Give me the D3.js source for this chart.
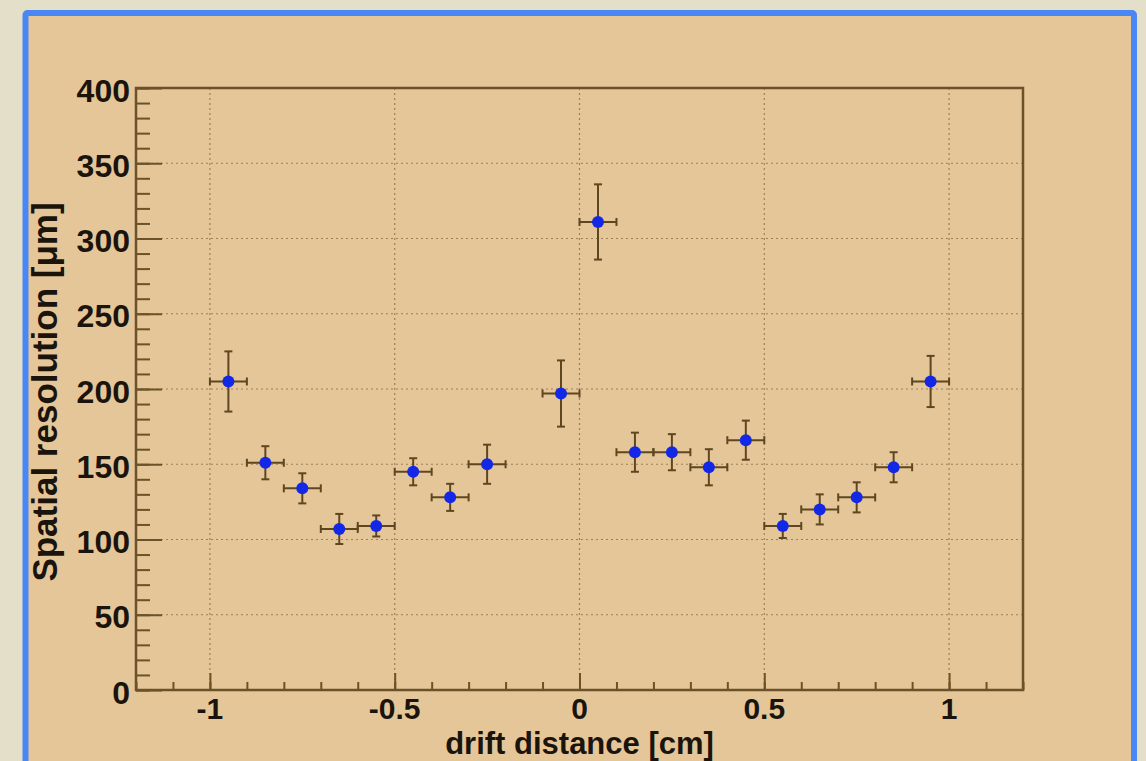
<!DOCTYPE html>
<html>
<head>
<meta charset="utf-8">
<script src="https://cdn.jsdelivr.net/npm/d3@7"></script>
<style>
  html, body { margin: 0; padding: 0; background: #e4dfc9; }
  #chart { width: 1146px; height: 761px; overflow: hidden; }
  svg { display: block; font-family: "Liberation Sans", Arial, sans-serif; }
</style>
</head>
<body>
<div id="chart"></div>
<script>
const DRIFT = [-0.95, -0.85, -0.75, -0.65, -0.55, -0.45, -0.35, -0.25, -0.05, 0.05,
               0.15, 0.25, 0.35, 0.45, 0.55, 0.65, 0.75, 0.85, 0.95];
const RESOLUTION = [205, 151, 134, 107, 109, 145, 128, 150, 197, 311,
                    158, 158, 148, 166, 109, 120, 128, 148, 205];
const RES_ERR = [20, 11, 10, 10, 7, 9, 9, 13, 22, 25,
                 13, 12, 12, 13, 8, 10, 10, 10, 17];
const DRIFT_ERR = 0.05;
const X_TICKS = [-1, -0.5, 0, 0.5, 1];
const Y_TICKS = [0, 50, 100, 150, 200, 250, 300, 350, 400];

const width = 1146;
const height = 761;
const margin = { left: 136, right: 123, top: 88, bottom: 71 };
const axisColor = "#6b5229";
const barColor = "#5e4720";
const textColor = "#1a140c";

const svg = d3.select("#chart")
  .append("svg")
  .attr("width", width)
  .attr("height", height);

// outer frame
svg.append("rect")
  .attr("x", 25.5).attr("y", 13)
  .attr("width", 1108.5).attr("height", 800)
  .attr("fill", "#e5c699")
  .attr("stroke", "#4a87f6")
  .attr("stroke-width", 6)
  .attr("rx", 2);

const x = d3.scaleLinear().domain([-1.2, 1.2]).range([margin.left, width - margin.right]);
const y = d3.scaleLinear().domain([0, 400]).range([height - margin.bottom, margin.top]);

// grid
const grid = svg.append("g")
  .attr("stroke", "#8a7048")
  .attr("stroke-width", 1.2)
  .attr("stroke-dasharray", "2,3")
  .attr("opacity", 0.8);

grid.selectAll("line.vx")
  .data(X_TICKS)
  .join("line")
  .attr("class", "vx")
  .attr("x1", (d) => x(d)).attr("x2", (d) => x(d))
  .attr("y1", y(0)).attr("y2", y(400));

grid.selectAll("line.hy")
  .data(Y_TICKS.filter((d) => d > 0 && d < 400))
  .join("line")
  .attr("class", "hy")
  .attr("x1", x(-1.2)).attr("x2", x(1.2))
  .attr("y1", (d) => y(d)).attr("y2", (d) => y(d));

// axes
const xMinor = d3.range(-12, 13).map((d) => d / 10);
const yMinor = d3.range(0, 41).map((d) => d * 10);

const xAxisMinor = d3.axisTop(x).tickValues(xMinor).tickSize(8).tickFormat("");
const xAxisMajor = d3.axisTop(x).tickValues(X_TICKS).tickSize(17).tickFormat("");
const yAxisMinor = d3.axisRight(y).tickValues(yMinor).tickSize(14).tickFormat("");
const yAxisMajor = d3.axisRight(y).tickValues(Y_TICKS).tickSize(26).tickFormat("");

function styleAxis(g) {
  g.select(".domain").remove();
  g.selectAll(".tick line").attr("stroke", axisColor).attr("stroke-width", 2);
}

svg.append("g").attr("transform", `translate(0,${y(0)})`).call(xAxisMinor).call(styleAxis);
svg.append("g").attr("transform", `translate(0,${y(0)})`).call(xAxisMajor).call(styleAxis);
svg.append("g").attr("transform", `translate(${x(-1.2)},0)`).call(yAxisMinor).call(styleAxis);
svg.append("g").attr("transform", `translate(${x(-1.2)},0)`).call(yAxisMajor).call(styleAxis);

// plot frame
svg.append("rect")
  .attr("x", x(-1.2)).attr("y", y(400))
  .attr("width", x(1.2) - x(-1.2)).attr("height", y(0) - y(400))
  .attr("fill", "none")
  .attr("stroke", axisColor)
  .attr("stroke-width", 2.5);

// tick labels
svg.append("g")
  .selectAll("text")
  .data(Y_TICKS)
  .join("text")
  .attr("x", x(-1.2) - 6)
  .attr("y", (d) => y(d) + 2)
  .attr("dy", "0.36em")
  .attr("text-anchor", "end")
  .attr("font-size", 32)
  .attr("font-weight", "bold")
  .attr("fill", textColor)
  .text((d) => d);

svg.append("g")
  .selectAll("text")
  .data(X_TICKS)
  .join("text")
  .attr("x", (d) => x(d))
  .attr("y", 719)
  .attr("text-anchor", "middle")
  .attr("font-size", 30)
  .attr("font-weight", "bold")
  .attr("fill", textColor)
  .text((d) => d);

// axis titles
svg.append("text")
  .attr("x", x(0))
  .attr("y", 754)
  .attr("text-anchor", "middle")
  .attr("font-size", 31)
  .attr("font-weight", "bold")
  .attr("fill", textColor)
  .text("drift distance [cm]");

svg.append("text")
  .attr("transform", `translate(57,${392}) rotate(-90)`)
  .attr("text-anchor", "middle")
  .attr("font-size", 35)
  .attr("font-weight", "bold")
  .attr("fill", textColor)
  .text("Spatial resolution [μm]");

// data
const points = DRIFT.map((d, i) => ({ x: d, y: RESOLUTION[i], ey: RES_ERR[i] }));
const cap = 4;

const bars = svg.append("g")
  .attr("stroke", barColor)
  .attr("stroke-width", 2);

const pt = bars.selectAll("g")
  .data(points)
  .join("g");

pt.append("line")
  .attr("x1", (d) => x(d.x - DRIFT_ERR)).attr("x2", (d) => x(d.x + DRIFT_ERR))
  .attr("y1", (d) => y(d.y)).attr("y2", (d) => y(d.y));
pt.append("line")
  .attr("x1", (d) => x(d.x)).attr("x2", (d) => x(d.x))
  .attr("y1", (d) => y(d.y - d.ey)).attr("y2", (d) => y(d.y + d.ey));
pt.append("line")
  .attr("x1", (d) => x(d.x) - cap).attr("x2", (d) => x(d.x) + cap)
  .attr("y1", (d) => y(d.y + d.ey)).attr("y2", (d) => y(d.y + d.ey));
pt.append("line")
  .attr("x1", (d) => x(d.x) - cap).attr("x2", (d) => x(d.x) + cap)
  .attr("y1", (d) => y(d.y - d.ey)).attr("y2", (d) => y(d.y - d.ey));
pt.append("line")
  .attr("x1", (d) => x(d.x - DRIFT_ERR)).attr("x2", (d) => x(d.x - DRIFT_ERR))
  .attr("y1", (d) => y(d.y) - cap).attr("y2", (d) => y(d.y) + cap);
pt.append("line")
  .attr("x1", (d) => x(d.x + DRIFT_ERR)).attr("x2", (d) => x(d.x + DRIFT_ERR))
  .attr("y1", (d) => y(d.y) - cap).attr("y2", (d) => y(d.y) + cap);

svg.append("g")
  .selectAll("circle")
  .data(points)
  .join("circle")
  .attr("cx", (d) => x(d.x))
  .attr("cy", (d) => y(d.y))
  .attr("r", 6)
  .attr("fill", "#1228e6");
</script>
</body>
</html>
